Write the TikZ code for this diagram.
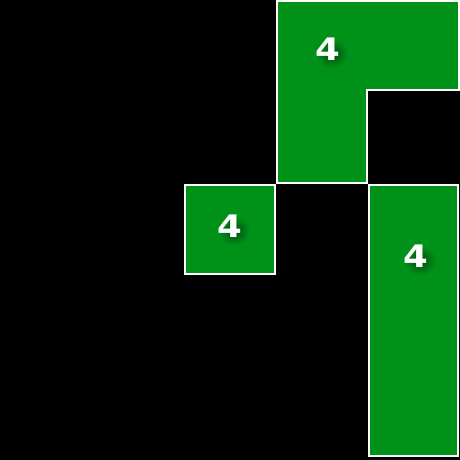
\documentclass[tikz,border=0pt]{standalone}
\usepackage{fontspec}
\setmainfont{DejaVu Sans}
\definecolor{tgreen}{RGB}{0,145,25}
\definecolor{sgreen}{RGB}{0,75,13}
\begin{document}
\begin{tikzpicture}[x=1pt,y=-1pt,
  region/.style={fill=tgreen,draw=white,line width=2.2pt},
  num/.style={text=white,font=\bfseries\fontsize{31}{31}\selectfont,inner sep=0pt},
  shadowblob/.style={shading=radial,inner color=sgreen,outer color=tgreen,draw=none}]
\fill[black] (0,0) rectangle (460,460);
\useasboundingbox (0,0) rectangle (460,460);
% regions
\path[region] (277,1) -- (459,1) -- (459,90) -- (367,90) -- (367,183) -- (277,183) -- cycle;
\path[region] (185,185) rectangle (275,274);
\path[region] (369,185) rectangle (458,456);
% soft shadows
\foreach \px/\py in {328/49.5,230/226.5,416/256.5}{
  \shade[shadowblob] (\px+4,\py+4) ellipse (16 and 15);
}
% labels
\node[num] (n1) at (328,49.5) {\scalebox{1.15}[1]{4}};
\node[num] (n2) at (230,226.5) {\scalebox{1.15}[1]{4}};
\node[num] (n3) at (416,256.5) {\scalebox{1.15}[1]{4}};
\end{tikzpicture}
\end{document}
